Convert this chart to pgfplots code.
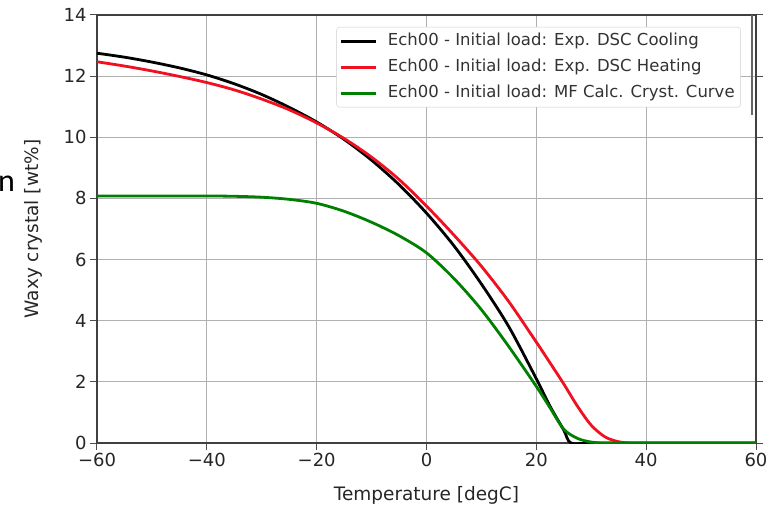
\documentclass[border=0pt]{standalone}
\usepackage{fontspec}
\setmainfont{DejaVu Sans}
\newfontfamily\calibri{Carlito}
\usepackage{pgfplots}
\pgfplotsset{compat=1.18}
\definecolor{mplgreen}{HTML}{008000}
\definecolor{mplred}{HTML}{F01020}
\definecolor{gridgray}{HTML}{B0B0B0}

\begin{document}
\begin{tikzpicture}
\useasboundingbox (-97pt,-63pt) rectangle (677pt,443pt);
\begin{axis}[
  at={(0pt,0pt)}, anchor=south west,
  width=659pt, height=428pt, scale only axis,
  xmin=-60, xmax=60, ymin=0, ymax=14,
  xtick={-60,-40,...,60},
  xticklabels={−60,−40,−20,0,20,40,60},
  ytick={0,2,...,14},
  yticklabels={0,2,4,6,8,10,12,14},
  tick align=outside,
  major tick length=7pt,
  xtick pos=bottom, ytick pos=both,
  tick style={black!70, line width=1pt},
  ticklabel style={font=\fontsize{18}{20}\selectfont, text=black!85},
  grid=major,
  major grid style={gridgray, line width=1pt},
  axis line style={black!75, line width=1.2pt},
  xlabel={Temperature [degC]},
  ylabel={Waxy crystal [wt\%]},
  label style={font=\fontsize{18.5}{20}\selectfont, text=black!85},
  xlabel style={at={(axis description cs:0.5,-0.1332)}, anchor=base},
  ylabel style={at={(axis description cs:-0.0971,0.5)}, anchor=center},
  legend style={at={(axis description cs:0.977,0.972)}, anchor=north east,
    draw=black!20, fill=white, rounded corners=3pt,
    font=\fontsize{16.5}{18}\selectfont, text=black!80,
    row sep=4pt, inner xsep=3pt, inner ysep=3pt,
    nodes={inner sep=3pt, text height=12pt, text depth=4pt}},
  legend cell align=left,
  legend image code/.code={\draw[#1] (0pt,0pt) -- (35pt,0pt); \path[draw=none] (0pt,0pt) -- (44pt,0pt);},
]
\addplot[black, line width=2.8pt, smooth] coordinates {
  (-60,12.75) (-55,12.62) (-50,12.46) (-45,12.27) (-40,12.04) (-35,11.75)
  (-30,11.4) (-25,10.98) (-20,10.5) (-15,9.93) (-10,9.25) (-5,8.45)
  (0,7.52) (5,6.45) (10,5.2) (15,3.8) (20,2.1) (22.5,1.2) (25,0.42)
  (26.3,0) (30,0) (40,0) (60,0)
};
\addlegendentry{Ech00 - Initial load: Exp. DSC Cooling}
\addplot[mplred, line width=2.8pt, smooth] coordinates {
  (-60,12.47) (-55,12.33) (-50,12.17) (-45,11.99) (-40,11.79) (-35,11.55)
  (-30,11.25) (-25,10.9) (-20,10.47) (-15,9.96) (-10,9.35) (-5,8.62)
  (0,7.75) (5,6.8) (10,5.78) (15,4.62) (20,3.3) (22.5,2.62) (25,1.93)
  (27.5,1.2) (30,0.58) (32.5,0.2) (35,0.04) (37.5,0) (45,0) (60,0)
};
\addlegendentry{Ech00 - Initial load: Exp. DSC Heating}
\addplot[mplgreen, line width=2.8pt, smooth] coordinates {
  (-60,8.08) (-50,8.08) (-40,8.08) (-35,8.07) (-30,8.04) (-25,7.97)
  (-20,7.84) (-15,7.58) (-10,7.22) (-5,6.78) (0,6.22) (5,5.38) (10,4.36)
  (15,3.15) (20,1.85) (22.5,1.15) (25,0.45) (27.5,0.15) (30,0.03)
  (32.5,0) (40,0) (60,0)
};
\addlegendentry{Ech00 - Initial load: MF Calc. Cryst. Curve}
\draw[black!60, line width=1.5pt] (axis cs:59.26,14) -- (axis cs:59.26,10.73);
\end{axis}
\node[anchor=base west, inner sep=0pt, font=\calibri\fontsize{32}{32}\selectfont] at (-99pt,251pt) {n};
\end{tikzpicture}
\end{document}
